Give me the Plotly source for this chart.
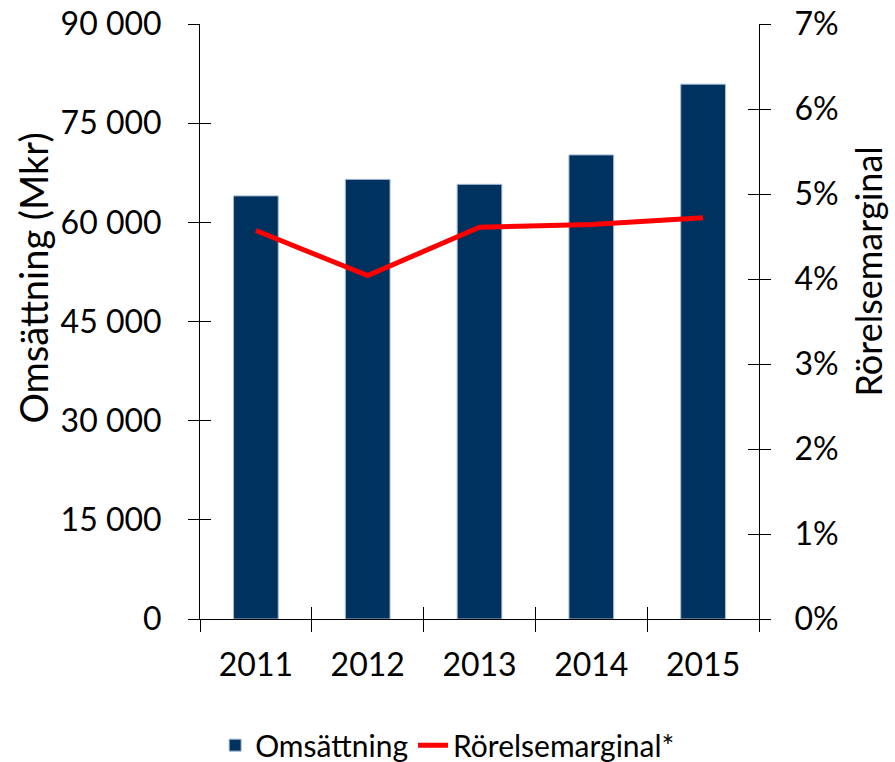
import plotly.graph_objects as go

years = ["2011", "2012", "2013", "2014", "2015"]
omsattning = [64000, 66500, 65750, 70200, 80900]
rorelsemarginal = [4.57, 4.04, 4.61, 4.64, 4.72]

left_ticks = [0, 15000, 30000, 45000, 60000, 75000, 90000]
right_ticks = [0, 1, 2, 3, 4, 5, 6, 7]
right_labels = ["0%", "1%", "2%", "3%", "4%", "5%", "6%", "7%"]

FONT = "Lato"
BAR_COLOR = "#00325F"
LINE_COLOR = "#FF0000"

fig = go.Figure()

fig.add_trace(go.Bar(
    x=years, y=omsattning, name="Omsättning",
    marker=dict(color=BAR_COLOR, line=dict(color="#A9BCD3", width=1)),
    width=0.4, xaxis="x", yaxis="y",
))
fig.add_trace(go.Scatter(
    x=years, y=rorelsemarginal, name="Rörelsemarginal*",
    mode="lines", line=dict(color=LINE_COLOR, width=5),
    xaxis="x", yaxis="y2",
))
# invisible helpers so the inside-tick overlay axes are drawn
fig.add_trace(go.Scatter(
    x=years, y=omsattning, mode="markers", marker=dict(opacity=0),
    showlegend=False, hoverinfo="skip", xaxis="x2", yaxis="y3",
))
fig.add_trace(go.Scatter(
    x=years, y=rorelsemarginal, mode="markers", marker=dict(opacity=0),
    showlegend=False, hoverinfo="skip", xaxis="x", yaxis="y4",
))

tickfont = dict(family=FONT, size=32, color="black")

fig.update_layout(
    width=895, height=762,
    margin=dict(l=200, r=136, t=24, b=143, autoexpand=False),
    paper_bgcolor="white", plot_bgcolor="white",
    separators=", ",
    font=dict(family=FONT, color="black"),
    bargap=0.6,
    showlegend=True,
    legend=dict(
        orientation="h", xref="paper", x=0.443, xanchor="center",
        yref="paper", y=-0.212, yanchor="middle",
        font=dict(family=FONT, size=30, color="black"),
        traceorder="normal", bgcolor="rgba(0,0,0,0)",
    ),
    xaxis=dict(
        type="category", categoryorder="array", categoryarray=years,
        range=[-0.5, 4.5], showline=True, linecolor="black", linewidth=1,
        ticks="outside", ticklen=12, tickcolor="black", tickwidth=1,
        tickson="boundaries", tickfont=tickfont, showgrid=False,
        ticklabelstandoff=18, zeroline=False, automargin=False,
        ticklabeloverflow="allow",
    ),
    xaxis2=dict(
        type="category", categoryorder="array", categoryarray=years,
        overlaying="x", side="bottom", range=[-0.5, 4.5],
        ticks="inside", ticklen=12, tickcolor="black", tickwidth=1,
        tickson="boundaries", showticklabels=False, showgrid=False,
        showline=False, zeroline=False, automargin=False,
    ),
    yaxis=dict(
        range=[0, 90000], tickvals=left_ticks, tickformat=",d",
        showline=True, linecolor="black", linewidth=1,
        ticks="outside", ticklen=11, tickcolor="black", tickwidth=1,
        tickfont=tickfont, showgrid=False, zeroline=False,
        ticklabelstandoff=20, automargin=False, ticklabeloverflow="allow",
    ),
    yaxis3=dict(
        range=[0, 90000], tickvals=left_ticks, overlaying="y", side="left",
        ticks="inside", ticklen=11, tickcolor="black", tickwidth=1,
        showticklabels=False, showgrid=False, showline=False, zeroline=False,
        automargin=False,
    ),
    yaxis2=dict(
        range=[0, 7], tickvals=right_ticks, ticktext=right_labels,
        overlaying="y", side="right",
        showline=True, linecolor="black", linewidth=1,
        ticks="outside", ticklen=11, tickcolor="black", tickwidth=1,
        tickfont=tickfont, showgrid=False, zeroline=False,
        ticklabelstandoff=17, automargin=False, ticklabeloverflow="allow",
    ),
    yaxis4=dict(
        range=[0, 7], tickvals=right_ticks, overlaying="y", side="right",
        ticks="inside", ticklen=11, tickcolor="black", tickwidth=1,
        showticklabels=False, showgrid=False, showline=False, zeroline=False,
        automargin=False,
    ),
    annotations=[
        dict(text="Omsättning (Mkr)", textangle=-90, xref="paper", yref="paper",
             x=-0.298, y=0.573, xanchor="center", yanchor="middle", showarrow=False,
             font=dict(family=FONT, size=38, color="black")),
        dict(text="Rörelsemarginal", textangle=-90, xref="paper", yref="paper",
             x=1.195, y=0.584, xanchor="center", yanchor="middle", showarrow=False,
             font=dict(family=FONT, size=36, color="black")),
    ],
)

fig.write_html(
    "out.html",
    config={"displayModeBar": False},
    post_script="document.body.style.margin='0';",
)
